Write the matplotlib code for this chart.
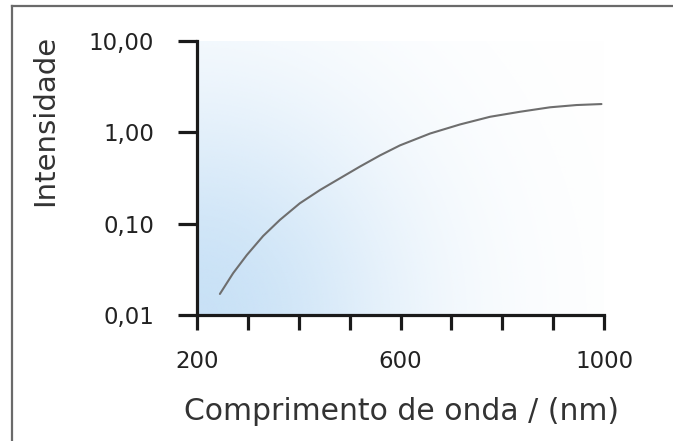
import numpy as np
import matplotlib
matplotlib.use("Agg")
import matplotlib.pyplot as plt
from matplotlib.lines import Line2D
from matplotlib.ticker import NullLocator

plt.rcParams["font.family"] = ["DejaVu Sans"]

# ---------------- Data ----------------
wavelength = [245, 271, 298, 330, 363, 402, 442, 481, 520, 560, 599,
              658, 717, 776, 835, 894, 946, 995]
intensity = [0.017, 0.0287, 0.0454, 0.0733, 0.11, 0.167, 0.234, 0.314, 0.421, 0.56, 0.72,
             0.97, 1.22, 1.48, 1.68, 1.88, 1.99, 2.04]

x_ticks = [200, 300, 400, 500, 600, 700, 800, 900, 1000]
x_tick_labels = ["200", "", "", "", "600", "", "", "", "1000"]
y_ticks = [0.01, 0.1, 1, 10]
y_tick_labels = ["0,01", "0,10", "1,00", "10,00"]

W, H = 673, 441

# ---------------- Figure ----------------
fig = plt.figure(figsize=(W / 100, H / 100), dpi=100)
fig.patch.set_facecolor("white")
ax_l, ax_b, ax_w, ax_h = 197 / W, 1 - 315 / H, 407 / W, 274 / H
ax = fig.add_axes([ax_l, ax_b, ax_w, ax_h])

# light blue glow fading out from the origin (gaussian falloff, in pixels)
ny, nx = 300, 400
X, Y = np.meshgrid(np.linspace(0, 1, nx), np.linspace(0, 1, ny))
d2 = (X * 407 / 215) ** 2 + (Y * 274 / 225) ** 2
alpha = 0.95 * np.exp(-d2)
rgba = np.zeros((ny, nx, 4))
rgba[..., 0] = 198 / 255
rgba[..., 1] = 224 / 255
rgba[..., 2] = 246 / 255
rgba[..., 3] = alpha
ax.imshow(rgba, extent=[0, 1, 0, 1], transform=ax.transAxes, origin="lower",
          aspect="auto", zorder=0, interpolation="bilinear")

ax.plot(wavelength, intensity, color="#6e6e6e", lw=1.5, zorder=3,
        solid_capstyle="round", solid_joinstyle="round")

ax.set_yscale("log")
ax.set_xlim(200, 1000)
ax.set_ylim(0.01, 10)
ax.set_xticks(x_ticks)
ax.set_xticklabels(x_tick_labels)
ax.set_yticks(y_ticks)
ax.set_yticklabels(y_tick_labels)
ax.yaxis.set_minor_locator(NullLocator())
ax.xaxis.set_minor_locator(NullLocator())

for side in ("top", "right"):
    ax.spines[side].set_visible(False)
for side in ("left", "bottom"):
    ax.spines[side].set_linewidth(2.3)
    ax.spines[side].set_color("#1a1a1a")
    ax.spines[side].set_capstyle("projecting")

ax.tick_params(axis="both", direction="out", width=2.3, color="#1a1a1a",
               labelsize=16.5, labelcolor="#222222")
ax.tick_params(axis="x", length=11, pad=14)
ax.tick_params(axis="y", length=14, pad=17)
ax.set_facecolor("none")

fig.text(401 / W, 1 - 420 / H, "Comprimento de onda / (nm)", fontsize=21.5,
         color="#333333", ha="center", va="baseline")
fig.text(45 / W, 1 - 120 / H, "Intensidade", fontsize=21, color="#333333",
         rotation=90, ha="center", va="center")

# thin gray frame on the top and left edges
fig.add_artist(Line2D([12 / W, 1], [1 - 6 / H, 1 - 6 / H], transform=fig.transFigure,
                      color="#6a6a6a", lw=1.6))
fig.add_artist(Line2D([12 / W, 12 / W], [0, 1 - 6 / H], transform=fig.transFigure,
                      color="#6a6a6a", lw=1.6))

fig.savefig("out.png", dpi=100)
